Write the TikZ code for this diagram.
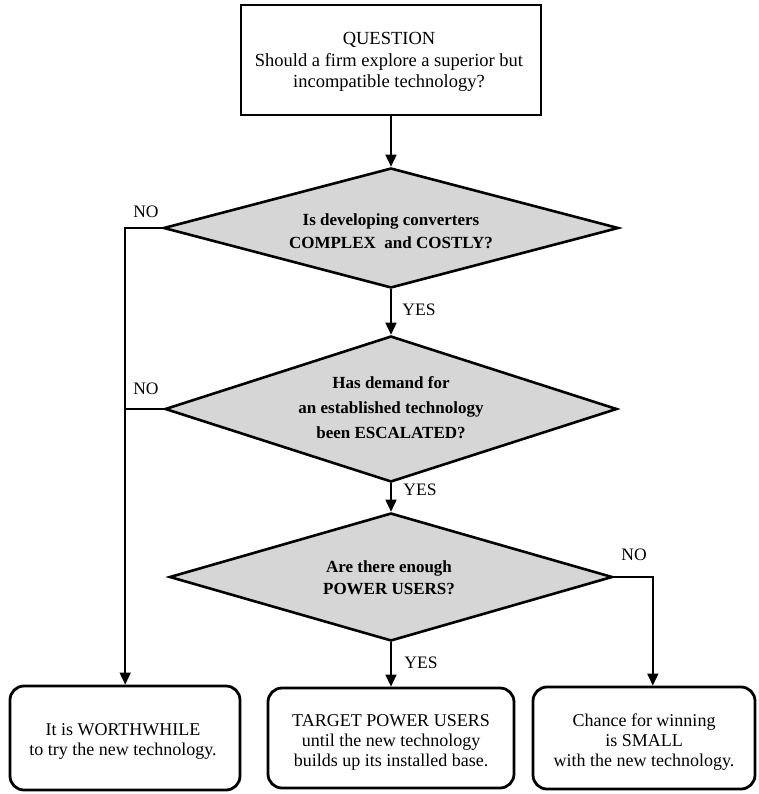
\documentclass[tikz,border=0pt]{standalone}
\usepackage{fontspec}
\setmainfont{Liberation Serif}
\usetikzlibrary{shapes.geometric,arrows.meta}
\begin{document}
\begin{tikzpicture}[x=1pt,y=-1pt,
  qbox/.style={draw, line width=2.5pt, inner sep=0pt},
  dec/.style={diamond, draw, line width=2.6pt, fill=black!16, inner sep=0pt},
  endbox/.style={draw, line width=2.8pt, rounded corners=14pt, inner sep=0pt},
  conn/.style={line width=1.6pt, -{Triangle[length=12pt,width=11pt]}},
  plainline/.style={line width=1.6pt},
  lbl/.style={font=\fontsize{17.5}{20}\selectfont, inner sep=0pt},
  dtext/.style={font=\bfseries\fontsize{17}{23}\selectfont, align=center, inner sep=0pt},
  btext/.style={font=\fontsize{18}{20}\selectfont, align=center, inner sep=0pt}]
\useasboundingbox (0,0) rectangle (759,794);

% question
\node[qbox, minimum width=300pt, minimum height=110pt] (q) at (391,60) {};
\node[btext, font=\fontsize{18.5}{21.5}\selectfont] (qt) at (389,62)
  {QUESTION\\Should a firm explore a superior but\\incompatible technology?};

% decisions
\node[dec, minimum width=455pt, minimum height=120pt] (d1) at (391,228) {};
\node[dtext] (d1t) at (391,231) {Is developing converters\\COMPLEX\ \ and COSTLY?};

\node[dec, minimum width=452pt, minimum height=146pt] (d2) at (391,409) {};
\node[dtext, font=\bfseries\fontsize{17}{25}\selectfont] (d2t) at (391,408)
  {Has demand for\\an established technology\\been ESCALATED?};

\node[dec, minimum width=443pt, minimum height=128pt] (d3) at (391,577) {};
\node[dtext, font=\bfseries\fontsize{17}{22}\selectfont] (d3t) at (389,578)
  {Are there enough\\POWER USERS?};

% end boxes
\node[endbox, minimum width=230pt, minimum height=104pt] (b1) at (125,738) {};
\node[btext] (b1t) at (123,741) {It is WORTHWHILE\\to try the new technology.};
\node[endbox, minimum width=246pt, minimum height=100pt] (b2) at (391,738) {};
\node[btext] (b2t) at (391,742) {TARGET POWER USERS\\until the new technology\\builds up its installed base.};
\node[endbox, minimum width=222pt, minimum height=102pt] (b3) at (644,738) {};
\node[btext] (b3t) at (644,742) {Chance for winning\\is SMALL\\with the new technology.};

% connectors
\draw[conn] (q.south) -- (d1.north);
\draw[conn] (d1.south) -- (d2.north);
\draw[conn] (d2.south) -- (d3.north);
\draw[conn] (d3.south) -- (b2.north);
\draw[conn] (d1.west) -- ++(-37,0) coordinate (nl) -- (nl |- b1.north);
\draw[plainline] (d2.west) -- (d2.west -| nl);
\draw[conn] (d3.east) -- ++(39,0) coordinate (nr) -- (nr |- b3.north);

% labels
\node[lbl] (no1) at (146,212) {NO};
\node[lbl] (no2) at (146,389) {NO};
\node[lbl] (no3) at (634,555) {NO};
\node[lbl] (y1) at (419,310) {YES};
\node[lbl] (y2) at (420,490) {YES};
\node[lbl] (y3) at (421,663) {YES};
\end{tikzpicture}
\end{document}
